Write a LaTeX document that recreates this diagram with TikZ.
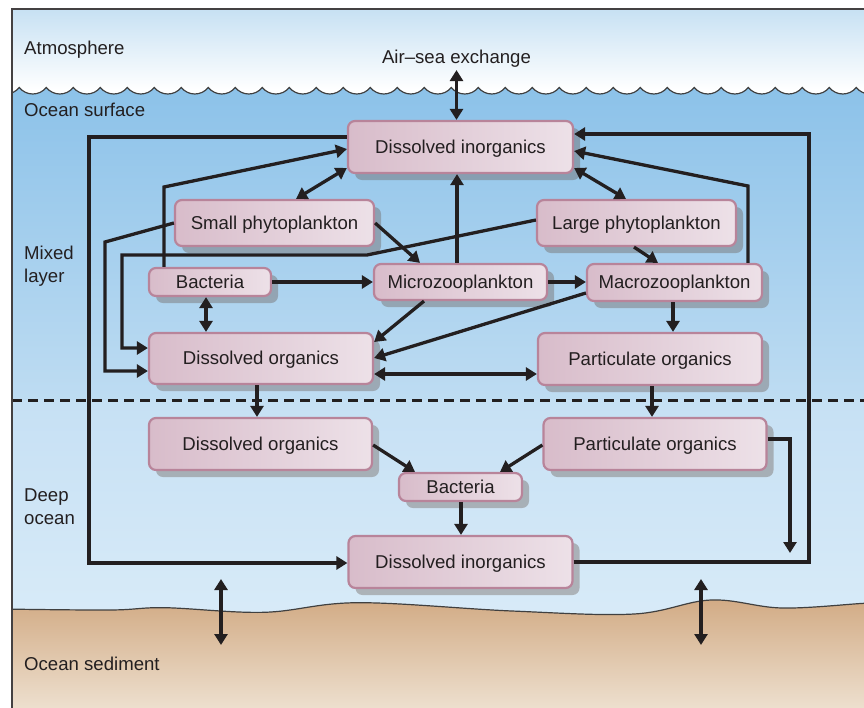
\documentclass[tikz,border=0pt]{standalone}
\usepackage{fontspec}
\setmainfont{Liberation Sans}
\usetikzlibrary{arrows.meta,shadows,calc}
\definecolor{ink}{HTML}{231F20}
\definecolor{atmtop}{HTML}{C7E1F3}
\definecolor{ocn1}{HTML}{8CC2E9}
\definecolor{ocn2}{HTML}{BEDCF2}
\definecolor{deep1}{HTML}{C6E0F4}
\definecolor{deep2}{HTML}{D8EBF8}
\definecolor{sed1}{HTML}{D2AB85}
\definecolor{sed2}{HTML}{F0E5D6}
\definecolor{boxline}{HTML}{B8849A}
\definecolor{boxL}{HTML}{D8BCCA}
\definecolor{boxR}{HTML}{EDE1E8}
\definecolor{shadowc}{HTML}{6A5A52}
\newcommand{\fs}{\fontsize{18.6}{22}\selectfont}
\tikzset{
  box/.style={rectangle, rounded corners=7pt, draw=boxline, line width=2.2pt,
    left color=boxL, right color=boxR, text=ink, font=\fs, inner sep=0pt,
    text height=12pt, text depth=0pt,
    drop shadow={shadow xshift=7pt, shadow yshift=-7pt, fill=shadowc, opacity=0.38}},
  lab/.style={font=\fs, text=ink, inner sep=0pt, anchor=base west},
  ln/.style={draw=ink, line width=3.3pt},
  arr/.style={ln, -{Triangle[length=11pt,width=13pt]}},
  dbl/.style={ln, {Triangle[length=11pt,width=13pt]}-{Triangle[length=11pt,width=13pt]}}
}
\begin{document}
\begin{tikzpicture}[x=1pt,y=-1pt]
\useasboundingbox (0,0) rectangle (864,707);
\begin{scope}
\clip (12,9) rectangle (864,707);
% atmosphere
\shade[top color=atmtop, bottom color=white] (0,9) rectangle (880,90);
% mixed layer with scalloped surface
\shade[top color=ocn1, bottom color=ocn2] (-8,87.5)
  \foreach \i in {0,...,33} {
    .. controls ({-7.7+27*\i+3.28},91.6) and ({-7.7+27*\i+8.25},94) .. ({-7.7+27*\i+13.5},94)
    .. controls ({-7.7+27*\i+18.75},94) and ({-7.7+27*\i+23.72},91.6) .. ({-7.7+27*\i+27},87.5)
  } -- (900,87.5) -- (900,400) -- (-8,400) -- cycle;
% deep ocean
\shade[top color=deep1, bottom color=deep2] (0,400) rectangle (880,620);
% sediment
\shade[top color=sed1, bottom color=sed2] plot[smooth, tension=0.6] coordinates
  {(0,609) (110,610) (165,607.7) (264,612.3) (358,602.7) (512,611) (634,614) (711,600) (782,608) (864,603.3) (880,603)}
  -- (880,720) -- (0,720) -- cycle;
\draw[black!75, line width=1.2pt] plot[smooth, tension=0.6] coordinates
  {(0,609) (110,610) (165,607.7) (264,612.3) (358,602.7) (512,611) (634,614) (711,600) (782,608) (864,603.3) (880,603)};
\draw[black!75, line width=1.2pt] (-8,87.5)
  \foreach \i in {0,...,33} {
    .. controls ({-7.7+27*\i+3.28},91.6) and ({-7.7+27*\i+8.25},94) .. ({-7.7+27*\i+13.5},94)
    .. controls ({-7.7+27*\i+18.75},94) and ({-7.7+27*\i+23.72},91.6) .. ({-7.7+27*\i+27},87.5)
  };
% mixed layer / deep ocean boundary
\draw[ink, line width=3pt, dash pattern=on 10pt off 6pt] (12,400) -- (880,400);
\end{scope}
% frame
\draw[ink!85, line width=2pt] (12,720) -- (12,9) -- (880,9);

% region labels
\node[lab] (atm) at (24,54) {Atmosphere};
\node[lab] (surf) at (24,116) {Ocean surface};
\node[lab] (mix1) at (24,259) {Mixed};
\node[lab] (mix2) at (24,282) {layer};
\node[lab] (deep1l) at (24,501) {Deep};
\node[lab] (deep2l) at (24,524) {ocean};
\node[lab] (sedl) at (24,670) {Ocean sediment};
\node[lab, anchor=base] (airsea) at (456.5,63) {Air--sea exchange};

% boxes
\node[box, minimum width=225pt, minimum height=52pt] (diT) at (460.5,147) {Dissolved inorganics};
\node[box, minimum width=199pt, minimum height=46pt] (sp) at (274.5,223) {Small phytoplankton};
\node[box, minimum width=199pt, minimum height=46pt] (lp) at (636.5,223) {Large phytoplankton};
\node[box, minimum width=122pt, minimum height=28pt] (bacU) at (210,282) {Bacteria};
\node[box, minimum width=173pt, minimum height=36pt] (mic) at (460.5,282) {Microzooplankton};
\node[box, minimum width=175pt, minimum height=37pt] (mac) at (674.5,282.5) {Macrozooplankton};
\node[box, minimum width=224pt, minimum height=51pt] (doU) at (261,358.5) {Dissolved organics};
\node[box, minimum width=224pt, minimum height=52pt] (poU) at (650,359) {Particulate organics};
\node[box, minimum width=223pt, minimum height=52pt] (doL) at (260.5,444) {Dissolved organics};
\node[box, minimum width=223pt, minimum height=52pt] (poL) at (655,444) {Particulate organics};
\node[box, minimum width=123pt, minimum height=28pt] (bacL) at (460.5,487) {Bacteria};
\node[box, minimum width=224pt, minimum height=52pt] (diL) at (460.5,562) {Dissolved inorganics};

% free ends
\coordinate (poEnd) at (790,553);
\coordinate (sedA1) at (221,579);
\coordinate (sedA2) at (221,645);
\coordinate (sedB1) at (701,579);
\coordinate (sedB2) at (701,645);

% connectors
\draw[dbl] (airsea.south) ++(0,-3pt) coordinate (asTop) (asTop) -- (asTop |- diT.north);
\draw[arr] (diT.west |- 0,137) -- (89,137) -- (89,563) -- (diL.west |- 0,563);
\draw[arr] (diL.east |- 0,562) -- (809,562) -- (809,134) -- (diT.east |- 0,134);
\draw[arr] (bacU.north -| 164,0) -- (164,187) -- (diT.west |- 0,149);
\draw[dbl] (sp.north -| 296,0) -- (diT.west |- 0,168);
\draw[dbl] (diT.east |- 0,168) -- (lp.north -| 626,0);
\draw[arr] (mic.north -| 457,0) -- (diT.south -| 457,0);
\draw[arr] (mac.north -| 748,0) -- (748,186) -- (diT.east |- 0,151);
\draw[arr] (sp.east) -- (mic.north -| 420,0);
\draw[arr] (lp.south -| 634,0) -- (mac.north -| 658,0);
\draw[arr] (sp.west) -- (105,242) -- (105,371) -- (doU.west |- 0,371);
\draw[arr] (lp.west |- 0,220) -- (367,255) -- (122,255) -- (122,348) -- (doU.west |- 0,348);
\draw[arr] (bacU.east) -- (mic.west |- bacU.east);
\draw[arr] (mic.east) -- (mac.west |- mic.east);
\draw[dbl] (bacU.south -| 206,0) -- (doU.north -| 206,0);
\draw[arr] (mic.south -| 424,0) -- (doU.east |- 0,342);
\draw[arr] (mac.west |- 0,293) -- (doU.east |- 0,358);
\draw[dbl] (doU.east |- 0,374) -- (poU.west |- 0,374);
\draw[arr] (mac.south -| 673,0) -- (poU.north -| 673,0);
\draw[arr] (doU.south -| 257,0) -- (doL.north -| 257,0);
\draw[arr] (poU.south -| 652,0) -- (poL.north -| 652,0);
\draw[arr] (doL.east |- 0,445) -- (bacL.north -| 415,0);
\draw[arr] (poL.west |- 0,445) -- (bacL.north -| 500,0);
\draw[arr] (bacL.south -| 461,0) -- (diL.north -| 461,0);
\draw[arr] (poL.east |- 0,439) -- (poEnd |- 0,439) -- (poEnd);
\draw[dbl] (sedA1) -- (sedA2);
\draw[dbl] (sedB1) -- (sedB2);
\end{tikzpicture}
\end{document}
